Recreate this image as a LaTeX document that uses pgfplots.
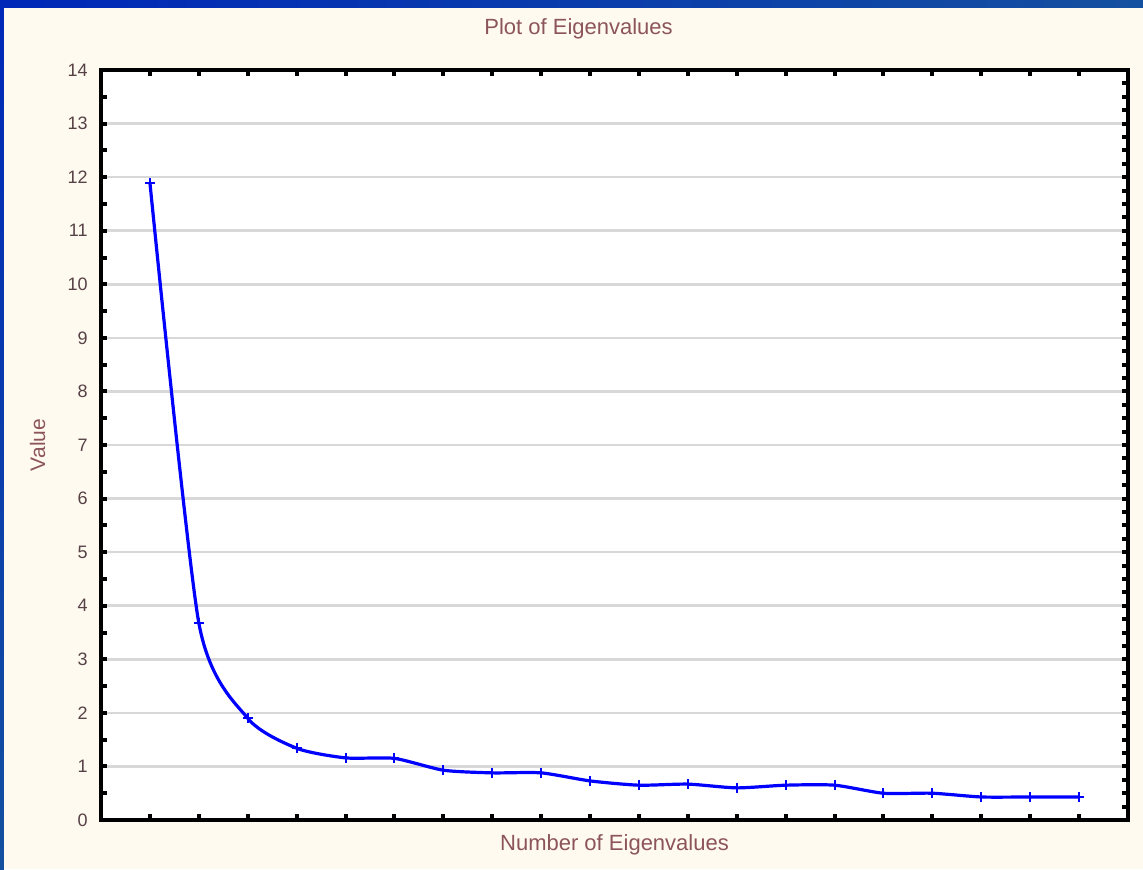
\documentclass[border=0pt]{standalone}
\usepackage{pgfplots}
\pgfplotsset{compat=1.18}
\usepackage{fontspec}
\setmainfont{Liberation Sans}
\definecolor{bgcol}{RGB}{255,250,239}
\definecolor{gridcol}{RGB}{216,216,216}
\definecolor{titlecol}{RGB}{140,85,90}
\definecolor{tickcol}{RGB}{85,65,70}
\definecolor{framea}{RGB}{0,40,184}
\definecolor{frameb}{RGB}{20,80,160}

\begin{document}
\begin{tikzpicture}
\useasboundingbox (-50.5pt,-24.5pt) rectangle (521pt,410pt);
\fill[bgcol] (-50.5pt,-24.5pt) rectangle (521pt,410pt);
\shade[left color=framea, right color=frameb] (-50.5pt,406pt) rectangle (521pt,410pt);
\shade[top color=framea, bottom color=frameb] (-50.5pt,-24.5pt) rectangle (-48.5pt,410pt);

\begin{axis}[
    at={(0,0)}, anchor=south west,
    scale only axis,
    width=513.5pt, height=375pt,
    xmin=0, xmax=21, ymin=0, ymax=14,
    axis background/.style={fill=white},
    axis line style={black, line width=2pt},
    tick align=inside,
    xtick pos=both, ytick pos=left,
    xtick={1,...,20}, xticklabels={},
    ytick={0,1,...,14},
    minor y tick num=1,
    major tick length=3pt, minor tick length=3pt,
    every tick/.style={black, line width=2pt},
    ymajorgrids,
    grid style={gridcol, line width=1.3pt},
    tick label style={font=\fontsize{9}{10}\selectfont, text=tickcol},
    yticklabel style={anchor=east, inner sep=0pt, xshift=-6.5pt},
    /pgf/number format/assume math mode=true,
    title={Plot of Eigenvalues},
    title style={at={(axis description cs:0.465,1.032)}, anchor=base, font=\fontsize{11}{13}\selectfont, text=titlecol, inner sep=0pt},
    xlabel={Number of Eigenvalues},
    xlabel style={at={(axis description cs:0.5,-0.04)}, anchor=base, font=\fontsize{11}{13}\selectfont, text=titlecol, inner sep=0pt},
    ylabel={Value},
    ylabel style={at={(axis description cs:-0.0545,0.5)}, anchor=base, rotate=0, font=\fontsize{10.5}{12}\selectfont, text=titlecol, inner sep=0pt},
]
\addplot[blue, line width=1.6pt, smooth, tension=0.4, mark=+, mark size=2.5pt, mark options={solid, line width=1pt}]
coordinates {
(1,11.9) (2,3.68) (3,1.90) (4,1.34) (5,1.16) (6,1.15) (7,0.93) (8,0.88)
(9,0.88) (10,0.73) (11,0.65) (12,0.67) (13,0.60) (14,0.65) (15,0.65)
(16,0.50) (17,0.50) (18,0.43) (19,0.43) (20,0.43)
};
\end{axis}

\begin{axis}[
    at={(0,0)}, anchor=south west,
    scale only axis,
    width=513.5pt, height=375pt,
    xmin=0, xmax=21, ymin=0, ymax=14,
    hide x axis,
    axis y line*=right,
    axis line style={black, line width=2pt},
    tick align=inside,
    ytick={0,0.25,...,14}, yticklabels={},
    major tick length=3pt,
    every tick/.style={black, line width=2pt},
]
\addplot[draw=none, forget plot] coordinates {(0,0) (21,14)};
\end{axis}
\end{tikzpicture}
\end{document}
